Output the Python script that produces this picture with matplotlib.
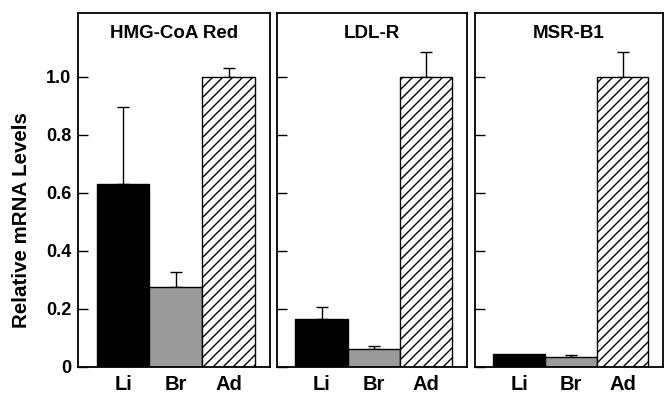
import matplotlib.pyplot as plt

# saved at 120 dpi so the hatch lines come out ~10 px apart like the original;
# point sizes below are scaled by k so everything keeps its pixel size
DPI = 120
k = 100 / DPI

plt.rcParams["font.family"] = ["Liberation Sans", "DejaVu Sans"]
plt.rcParams["font.weight"] = "bold"
plt.rcParams["hatch.linewidth"] = 1.0 * k

genes = ["HMG-CoA Red", "LDL-R", "MSR-B1"]
tissues = ["Li", "Br", "Ad"]
means = [
    [0.63, 0.276, 1.0],
    [0.165, 0.061, 1.0],
    [0.044, 0.032, 1.0],
]
errors = [
    [0.265, 0.05, 0.03],
    [0.04, 0.011, 0.085],
    [0.0, 0.008, 0.085],
]
yticks = [0, 0.2, 0.4, 0.6, 0.8, 1.0]
ytick_labels = ["0", "0.2", "0.4", "0.6", "0.8", "1.0"]

colors = ["black", "#9a9a9a", "white"]
hatches = [None, None, "////"]

W, H = 664, 393
fig = plt.figure(figsize=(W / DPI, H / DPI), dpi=DPI)
lefts = [78, 277, 475]
rights = [270, 467, 663]
bottom = 1 - 366.5 / H
top = 1 - 13 / H

for i, gene in enumerate(genes):
    ax = fig.add_axes([lefts[i] / W, bottom, (rights[i] - lefts[i]) / W, top - bottom])
    x = range(len(tissues))
    for j in x:
        ax.bar(j, means[i][j], width=1.0, color=colors[j], edgecolor="black",
               linewidth=1.0 * k, hatch=hatches[j], zorder=2)
        if errors[i][j] > 0:
            ax.errorbar(j, means[i][j], yerr=[[0], [errors[i][j]]], fmt="none",
                        ecolor="black", elinewidth=1.0 * k, capsize=4.3 * k,
                        capthick=1.0 * k, zorder=1)
    ax.set_xlim(-0.853, 2.783)
    ax.set_ylim(0, 1.221)
    ax.set_xticks(list(x))
    ax.set_xticklabels(tissues, fontsize=14.5 * k, fontweight="bold")
    ax.tick_params(axis="x", length=0, pad=6 * k)
    ax.set_yticks(yticks)
    ax.tick_params(axis="y", direction="in", length=7 * k, width=1.0 * k, pad=5 * k)
    if i == 0:
        ax.set_yticklabels(ytick_labels, fontsize=13 * k, fontweight="bold")
    else:
        ax.set_yticklabels([])
    for s in ax.spines.values():
        s.set_linewidth(1.3 * k)
    ax.text(0.5, 0.943, gene, transform=ax.transAxes, ha="center", va="center",
            fontsize=13.5 * k, fontweight="bold")

fig.text(0.032, 1 - 220 / H, "Relative mRNA Levels", rotation=90,
         ha="center", va="center", fontsize=14.8 * k, fontweight="bold")

fig.savefig("out.png", dpi=DPI)
